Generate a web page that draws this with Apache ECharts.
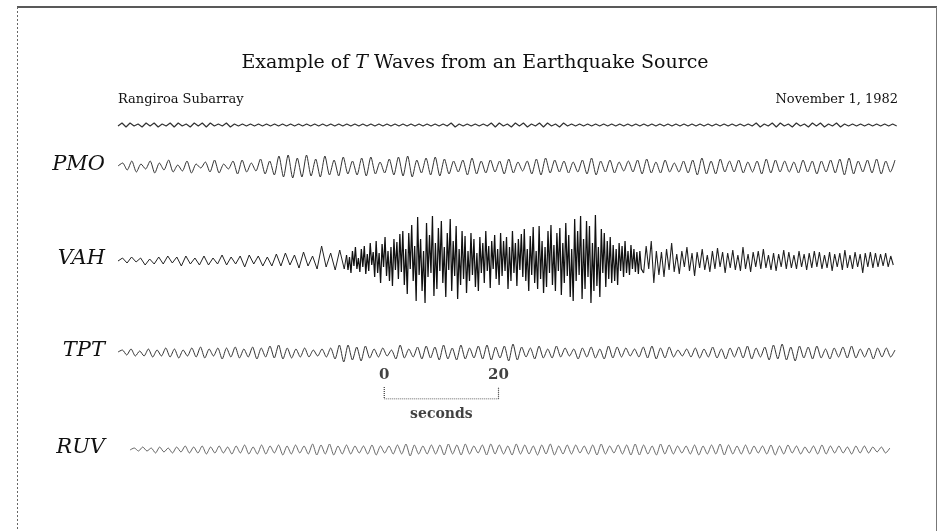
<!DOCTYPE html>
<html><head><meta charset="utf-8">
<script src="https://cdn.jsdelivr.net/npm/echarts@6/dist/echarts.min.js"></script>
<style>html,body{margin:0;padding:0;background:#fff}#c{width:941px;height:531px}</style>
</head><body><div id="c"></div>
<script>
// ---------- text ----------
const TITLE_PRE = 'Example of ';
const TITLE_ITALIC = 'T';
const TITLE_POST = ' Waves from an Earthquake Source';
const SUBTITLE_LEFT = 'Rangiroa Subarray';
const SUBTITLE_RIGHT = 'November 1, 1982';
const STATIONS = ['PMO', 'VAH', 'TPT', 'RUV'];
const SCALE_TICKS = ['0', '20'];
const SCALE_UNIT = 'seconds';

// ---------- time axis (seconds) ----------
const TIME_MIN = 0, TIME_MAX = 136;
const SCALE_START = 46.6, SCALE_LENGTH = 20;

// ---------- traces: [start s, end s] + amplitudes ----------
const TIMECODE_SPAN = [0, 136.3];
const TIMECODE = [0,3,-1,3,0,2,-1,3,0,3,-1,2,0,3,-1,3,0,2,-1,3,0,3,-1,3,0,2,0,3,-1,2,0,2,0,2,0,2,0,2,0,2,0,2,0,2,0,2,0,2,0,2,0,2,0,2,0,2,0,2,0,2,0,2,0,2,0,2,0,2,0,2,0,2,0,2,0,2,0,2,0,2,0,2,0,3,-1,2,0,2,0,2,0,2,0,3,-1,3,0,2,-1,3,0,3,-1,2,0,3,-1,3,0,2,-1,3,0,2,0,2,0,2,0,2,0,2,0,2,0,2,0,2,0,2,0,2,0,2,0,2,0,2,0,2,0,2,0,2,0,2,0,2,0,2,0,2,0,2,0,2,0,2,0,3,-1,2,0,3,-1,3,0,2,-1,3,0,2,-1,3,0,3,-1,2,0,3,-1,2,0,2,0,2,0,2,0,2,0,2,0,2,0];

const PMO_SPAN = [0, 136];
const PMO = [1,4,-3,6,-5,3,-2,6,-6,4,-3,7,-5,2,-4,6,-6,3,-1,5,-5,7,-6,3,-2,6,-7,7,-5,4,-4,8,-7,6,-8,11,-10,12,-11,9,-10,12,-9,8,-10,11,-8,7,-9,10,-7,6,-8,9,-9,10,-7,5,-6,8,-8,10,-9,11,-10,7,-6,9,-8,10,-9,8,-7,6,-5,7,-8,9,-7,6,-6,7,-5,6,-7,8,-6,5,-4,6,-7,8,-8,9,-6,7,-5,6,-6,5,-5,7,-7,9,-8,6,-5,7,-6,5,-4,6,-5,7,-7,8,-6,5,-6,7,-5,4,-5,6,-6,7,-8,9,-7,6,-7,8,-5,6,-5,7,-6,5,-5,6,-7,8,-6,7,-5,6,-5,5,-6,7,-5,6,-7,6,-5,7,-6,8,-8,9,-7,6,-5,7,-6,8,-7,6,-5,7];

const VAH_A_SPAN = [0, 39.6];
const VAH_A = [0,3,-2,4,-1,3,-4,2,-3,4,-3,5,-2,4,-5,5,-3,3,-4,5,-4,3,-3,6,-4,4,-3,5,-6,6,-3,5,-5,4,-5,7,-5,8,-4,6,-7,9,-5,5,-8,15,-6,8,-9,11,-8];
const VAH_B_SPAN = [40, 91.6];
const VAH_B = [6,-9,4,-12,10,-5,14,-8,3,-11,12,-6,15,-13,7,-10,18,-4,9,-16,20,-12,8,-22,17,-6,24,-15,10,-20,14,-25,22,-9,19,-18,27,-11,30,-24,12,-33,28,-8,36,-20,15,-40,44,-14,22,-30,10,-42,38,-16,26,-12,45,-35,18,-28,33,-10,40,-22,14,-36,28,-9,42,-30,20,-15,35,-38,12,-24,30,-18,25,-32,10,-20,28,-14,22,-26,8,-30,24,-12,18,-22,30,-10,15,-27,20,-8,26,-18,12,-24,28,-15,20,-10,24,-28,14,-20,30,-12,18,-25,22,-9,27,-16,32,-20,12,-30,25,-14,34,-22,10,-28,35,-18,20,-32,14,-26,30,-12,36,-24,16,-30,28,-10,33,-34,18,-22,38,-15,26,-36,12,-40,42,-20,30,-14,45,-38,22,-28,40,-16,35,-42,18,-30,46,-25,14,-36,32,-12,28,-26,20,-18,24,-22,16,-20,12,-24,18,-10,15,-16,20,-12,10,-14,16,-8,12,-11,9,-13,10,-8];
const VAH_C_SPAN = [92, 135.7];
const VAH_C = [-12,15,-8,20,-22,10,-14,9,-16,12,-9,18,-11,7,-13,10,-6,14,-10,8,-15,9,-7,12,-9,6,-11,10,-8,13,-6,9,-12,8,-7,11,-9,6,-10,14,-8,7,-11,9,-6,10,-8,12,-7,6,-9,8,-10,7,-6,11,-8,9,-7,6,-8,10,-6,7,-9,8,-7,10,-6,9,-8,6,-7,9,-10,7,-6,8,-9,11,-7,6,-8,9,-6,7,-12,8,-6,9,-7,8,-6,7,-5,8,-6,5,-4];

const TPT_SPAN = [0, 136];
const TPT = [1,3,-2,4,-3,2,-3,4,-4,3,-3,5,-4,4,-5,3,-3,5,-4,6,-5,4,-3,5,-6,5,-4,6,-5,4,-4,6,-6,5,-4,7,-5,8,-6,5,-5,4,-4,5,-4,3,-3,4,-4,5,-6,8,-9,8,-7,6,-8,7,-5,4,-4,5,-3,3,-6,8,-5,4,-4,6,-6,7,-5,6,-7,8,-6,5,-7,8,-6,5,-5,7,-6,8,-7,6,-5,7,-8,9,-7,6,-4,5,-6,7,-5,4,-5,7,-4,5,-3,4,-6,5,-4,6,-5,4,-6,7,-5,6,-4,5,-3,4,-4,6,-5,7,-6,5,-5,6,-4,3,-3,4,-4,5,-5,4,-4,6,-5,4,-6,5,-4,6,-5,7,-6,5,-4,6,-7,8,-6,9,-7,6,-8,7,-5,6,-6,7,-5,4,-6,5,-4,6,-5,7,-5,4,-4,5,-6,5,-4,5,-4,3];

const RUV_SPAN = [2.1, 135.1];
const RUV = [0,2,-1,3,-1,2,-3,3,-2,2,-3,3,-2,4,-3,3,-3,4,-4,3,-3,4,-3,3,-4,4,-3,5,-4,3,-4,5,-4,4,-3,5,-5,4,-4,5,-3,4,-4,6,-5,5,-4,6,-5,4,-4,5,-4,4,-3,4,-4,5,-5,4,-3,4,-4,5,-4,6,-6,5,-4,4,-4,5,-4,5,-5,6,-4,5,-5,6,-4,4,-3,5,-5,6,-4,5,-4,4,-5,6,-4,5,-4,4,-5,5,-4,6,-5,4,-4,5,-4,5,-3,4,-4,5,-5,6,-4,4,-3,5,-4,5,-5,6,-5,5,-4,4,-5,6,-4,5,-4,4,-3,4,-4,5,-5,4,-4,5,-4,6,-5,5,-4,4,-4,5,-4,4,-3,4,-4,5,-5,4,-4,5,-3,4,-4,3,-3,4,-4,5,-4,4,-3,4,-3,3,-4,4,-3,4,-3,3,-2,3,-3,2];

// ---------- helpers ----------
function seg(span, vals) {
  const n = vals.length, dt = (span[1] - span[0]) / (n - 1);
  return vals.map((v, i) => [span[0] + i * dt, v]);
}
const vahA = seg(VAH_A_SPAN, VAH_A), vahB = seg(VAH_B_SPAN, VAH_B), vahC = seg(VAH_C_SPAN, VAH_C);

const traces = [
  { base: 126, parts: [{ d: seg(TIMECODE_SPAN, TIMECODE), w: 1.2, c: '#333' }], smooth: false, label: null },
  { base: 167, parts: [{ d: seg(PMO_SPAN, PMO), w: 1, c: '#333' }], smooth: 0.25, label: STATIONS[0] },
  { base: 261, parts: [
      { d: vahA.concat([vahB[0]]), w: 1, c: '#222' },
      { d: vahB.concat([vahC[0]]), w: 1.25, c: '#111' },
      { d: vahC, w: 1.1, c: '#222' }], smooth: false, label: STATIONS[1] },
  { base: 353, parts: [{ d: seg(TPT_SPAN, TPT), w: 1, c: '#333' }], smooth: 0.25, label: STATIONS[2] },
  { base: 450, parts: [{ d: seg(RUV_SPAN, RUV), w: 0.9, c: '#555' }], smooth: 0.25, label: STATIONS[3] }
];

const PLOT_LEFT = 118, PLOT_WIDTH = 777;
const grids = [], xAxes = [], yAxes = [], series = [], graphics = [];
traces.forEach((t, i) => {
  grids.push({ left: PLOT_LEFT, width: PLOT_WIDTH, top: t.base - 50, height: 100 });
  xAxes.push({ gridIndex: i, type: 'value', min: TIME_MIN, max: TIME_MAX, show: false });
  yAxes.push({ gridIndex: i, type: 'value', min: -50, max: 50, show: false });
  t.parts.forEach(p => series.push({ type: 'line', xAxisIndex: i, yAxisIndex: i, data: p.d, symbol: 'none',
    smooth: t.smooth, lineStyle: { color: p.c, width: p.w }, silent: true }));
  if (t.label) graphics.push({ type: 'text', x: 105, y: t.base - 2,
    style: { text: t.label, textAlign: 'right', textVerticalAlign: 'middle',
      font: 'italic 21px "DejaVu Serif"', fill: '#111' } });
});

// scale bar grid
const si = traces.length;
grids.push({ left: PLOT_LEFT, width: PLOT_WIDTH, top: 387, height: 12 });
xAxes.push({ gridIndex: si, type: 'value', min: TIME_MIN, max: TIME_MAX, show: false });
yAxes.push({ gridIndex: si, type: 'value', min: 0, max: 1, show: false });
series.push({ type: 'line', xAxisIndex: si, yAxisIndex: si, symbol: 'none', silent: true,
  data: [[SCALE_START, 1], [SCALE_START, 0], [SCALE_START + SCALE_LENGTH, 0], [SCALE_START + SCALE_LENGTH, 1]],
  lineStyle: { color: '#333', width: 1.2, type: [1, 1] } });
const lblFont = { fontFamily: 'DejaVu Serif', fontWeight: 'bold', fontSize: 15, color: '#111' };
series.push({ type: 'scatter', xAxisIndex: si, yAxisIndex: si, symbolSize: 0, silent: true,
  data: [
    { value: [SCALE_START, 1], name: SCALE_TICKS[0], label: { position: 'top', distance: 4 } },
    { value: [SCALE_START + SCALE_LENGTH, 1], name: SCALE_TICKS[1], label: { position: 'top', distance: 4 } },
    { value: [SCALE_START + SCALE_LENGTH / 2, 0], name: SCALE_UNIT, label: { position: 'bottom', distance: 8, fontSize: 14 } }
  ],
  label: Object.assign({ show: true, formatter: p => p.name }, lblFont) });

// frame + headings
graphics.push(
  { type: 'line', shape: { x1: 17, y1: 7, x2: 937, y2: 7 }, style: { stroke: '#222', lineWidth: 1.5 } },
  { type: 'line', shape: { x1: 17.5, y1: 7, x2: 17.5, y2: 531 }, style: { stroke: '#666', lineWidth: 1, lineDash: [2, 2] } },
  { type: 'line', shape: { x1: 936.5, y1: 7, x2: 936.5, y2: 531 }, style: { stroke: '#777', lineWidth: 1 } },
  { type: 'text', x: 475, y: 63, style: {
      text: TITLE_PRE + '{i|' + TITLE_ITALIC + '}' + TITLE_POST, textAlign: 'center', textVerticalAlign: 'middle',
      font: '19px "DejaVu Serif"', fill: '#111',
      rich: { i: { fontStyle: 'italic', fontFamily: 'DejaVu Serif', fontSize: 19 } } } },
  { type: 'text', x: 118, y: 100, style: { text: SUBTITLE_LEFT, textAlign: 'left', textVerticalAlign: 'middle',
      font: '13px "DejaVu Serif"', fill: '#111' } },
  { type: 'text', x: 898, y: 100, style: { text: SUBTITLE_RIGHT, textAlign: 'right', textVerticalAlign: 'middle',
      font: '13px "DejaVu Serif"', fill: '#111' } }
);

const chart = echarts.init(document.getElementById('c'), null, { renderer: 'canvas' });
chart.setOption({
  animation: false, backgroundColor: '#fff',
  grid: grids, xAxis: xAxes, yAxis: yAxes, series, graphic: graphics
});
</script></body></html>
